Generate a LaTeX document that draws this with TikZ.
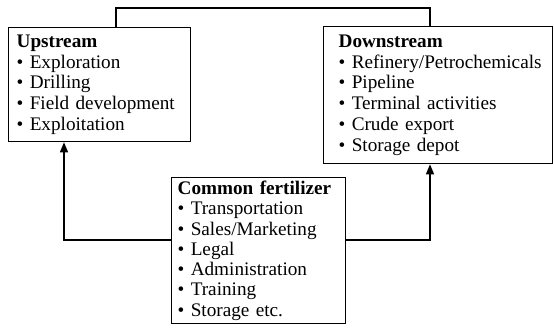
\documentclass[tikz,border=0pt]{standalone}
\usepackage{fontspec}
\setmainfont{Liberation Serif}
\usetikzlibrary{arrows.meta}
\tikzset{
  box/.style={draw, line width=1.3pt, rectangle, anchor=north west, align=left, inner ysep=0pt,
    font=\fontsize{19.2}{20.8}\selectfont},
  conn/.style={line width=1.3pt},
  arr/.style={conn, -{Triangle[width=8pt,length=10pt]}}
}
\begin{document}
\begin{tikzpicture}[x=1pt,y=1pt]
\useasboundingbox (0,0) rectangle (554,332);
\node[box, inner xsep=8pt, text width=166pt, minimum width=182pt, minimum height=114pt] (up) at (8,305)
  {\textbf{Upstream}\\ \textbullet\ Exploration\\ \textbullet\ Drilling\\ \textbullet\ Field development\\ \textbullet\ Exploitation};
\node[box, inner xsep=15pt, text width=199pt, minimum width=229pt, minimum height=137pt] (down) at (323,306)
  {\textbf{Downstream}\\ \mbox{\textbullet\ Refinery/Petrochemicals}\\ \textbullet\ Pipeline\\ \textbullet\ Terminal activities\\ \textbullet\ Crude export\\ \textbullet\ Storage depot};
\node[box, inner xsep=6pt, text width=162pt, minimum width=174pt, minimum height=146pt,
  font=\fontsize{19.2}{20.3}\selectfont] (com) at (171,155)
  {\textbf{Common fertilizer}\\ \textbullet\ Transportation\\ \textbullet\ Sales/Marketing\\ \textbullet\ Legal\\ \textbullet\ Administration\\ \textbullet\ Training\\ \textbullet\ Storage etc.};
\coordinate (tl) at (116,324);
\coordinate (tr) at (430,324);
\coordinate (al) at (64,92);
\coordinate (ar) at (430,92);
\draw[conn] (up.north -| tl) -- (tl) -- (tr) -- (down.north -| tr);
\draw[arr] (com.west |- al) -- (al) -- (up.south -| al);
\draw[arr] (com.east |- ar) -- (ar) -- (down.south -| ar);
\end{tikzpicture}
\end{document}
